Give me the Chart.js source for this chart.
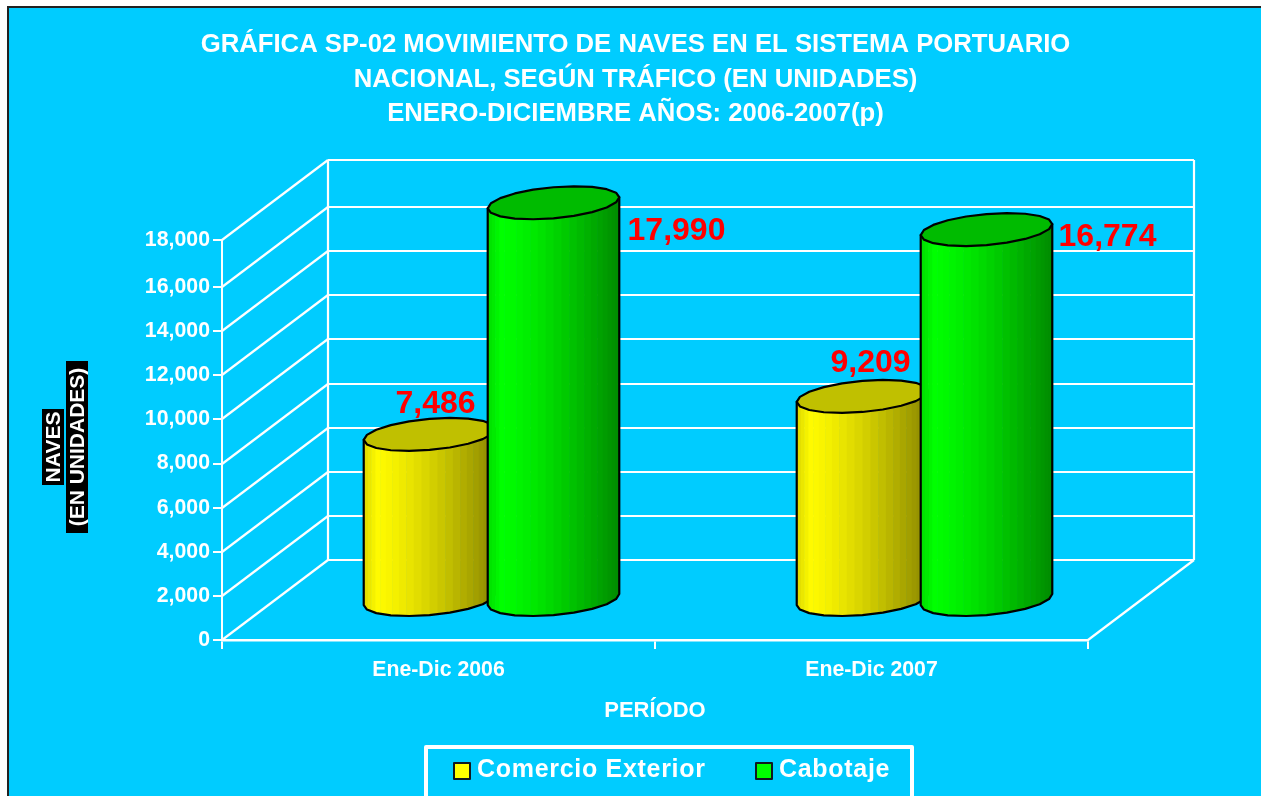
<!DOCTYPE html>
<html>
<head>
<meta charset="utf-8">
<style>html,body{margin:0;padding:0;background:#fff;overflow:hidden}canvas{display:block}</style>
<script src="https://cdn.jsdelivr.net/npm/chart.js@4"></script>
</head>
<body>
<div style="width:1261px;height:796px"><canvas id="c" width="1261" height="796"></canvas></div>
<script>
const categories = ['Ene-Dic 2006', 'Ene-Dic 2007'];
const comercioExterior = [7486, 9209];
const cabotaje = [17990, 16774];
const yTickValues = [0, 2000, 4000, 6000, 8000, 10000, 12000, 14000, 16000, 18000];
const yTickLabels = ['0', '2,000', '4,000', '6,000', '8,000', '10,000', '12,000', '14,000', '16,000', '18,000'];
const titleLines = [
  'GRÁFICA SP-02 MOVIMIENTO DE NAVES EN EL SISTEMA PORTUARIO',
  'NACIONAL, SEGÚN TRÁFICO (EN UNIDADES)',
  'ENERO-DICIEMBRE AÑOS: 2006-2007(p)'
];
const yTitleLines = ['NAVES', '(EN UNIDADES)'];
const xTitle = 'PERÍODO';

// Reference quirk: the top of the value axis sits a little above a true 18,000.
const axisTop = 18140;
const FONT = '"Liberation Sans", Arial, sans-serif';
const depth = { dx: 106, dy: 80 };
// value-label placement relative to each cylinder's top centre [dataset][category]
const labelOffsets = [[[6, -31], [8, -34]], [[123, 28], [121, 7]]];

function bandLevel(u) {
  return u < 0.1 ? 0.86 + 0.14 * u / 0.1 : 1 - 0.46 * Math.pow((u - 0.1) / 0.9, 1.3);
}

function drawCylinder(ctx, cx, topY, baseY, a, rgbFn, topColor) {
  const s = 22, h = 16.5, segs = 20;
  const pt = (t, cy) => [cx + a * Math.cos(t) + s * Math.sin(t), cy - h * Math.sin(t)];
  const t0 = Math.atan2(s, a);
  const R = Math.hypot(a, s);

  const sidePath = () => {
    ctx.beginPath();
    const lt = pt(t0 + Math.PI, topY);
    ctx.moveTo(lt[0], lt[1]);
    for (let i = 0; i <= segs / 2; i++) {
      const p = pt(t0 + Math.PI + i * 2 * Math.PI / segs, baseY);
      ctx.lineTo(p[0], p[1]);
    }
    const rt = pt(t0, topY);
    ctx.lineTo(rt[0], rt[1]);
    ctx.closePath();
  };

  ctx.save();
  sidePath();
  ctx.clip();
  const bands = 26;
  for (let i = 0; i < bands; i++) {
    const u0 = (1 - Math.cos(Math.PI * i / bands)) / 2;
    const u1 = (1 - Math.cos(Math.PI * (i + 1) / bands)) / 2;
    ctx.fillStyle = rgbFn(bandLevel((u0 + u1) / 2));
    ctx.fillRect(cx - R + u0 * 2 * R, topY - 30, (u1 - u0) * 2 * R + 0.6, baseY - topY + 70);
  }
  ctx.restore();

  ctx.strokeStyle = '#000';
  ctx.lineWidth = 2.2;
  ctx.lineJoin = 'round';
  sidePath();
  ctx.stroke();

  ctx.beginPath();
  for (let i = 0; i < segs; i++) {
    const p = pt(t0 + i * 2 * Math.PI / segs, topY);
    i ? ctx.lineTo(p[0], p[1]) : ctx.moveTo(p[0], p[1]);
  }
  ctx.closePath();
  ctx.fillStyle = topColor;
  ctx.fill();
  ctx.stroke();
}

const styles = [
  { rgb: l => `rgb(${Math.round(255 * l)},${Math.round(250 * l)},0)`, top: '#C0C000' },
  { rgb: l => `rgb(0,${Math.round(255 * l)},0)`, top: '#00BB00' }
];

const scene = {
  id: 'scene',
  beforeDraw(chart) {
    const { ctx, width, height } = chart;
    ctx.save();
    ctx.fillStyle = '#fff';
    ctx.fillRect(0, 0, width, height);
    ctx.fillStyle = '#222';
    ctx.fillRect(7, 6, width, height);
    ctx.fillStyle = '#00CCFF';
    ctx.fillRect(9, 8, width, height);
    ctx.restore();
  },
  afterLayout(chart) {
    // the title centres on the full plot block, not on the reserved width
    chart.titleBlock.left = 0;
    chart.titleBlock.right = 1271;
  },
  beforeDatasetsDraw(chart) {
    const { ctx, chartArea: ca, scales: { y } } = chart;
    const { dx, dy } = depth;
    ctx.save();
    ctx.strokeStyle = '#fff';
    ctx.lineWidth = 2.2;
    const line = (x1, y1, x2, y2) => { ctx.beginPath(); ctx.moveTo(x1, y1); ctx.lineTo(x2, y2); ctx.stroke(); };
    y.ticks.forEach(t => {
      const py = Math.round(y.getPixelForValue(t.value));
      line(ca.left, py, ca.left + dx, py - dy);
      line(ca.left + dx, py - dy, ca.right + dx, py - dy);
    });
    line(ca.left + dx, ca.top - dy, ca.left + dx, ca.bottom - dy);
    line(ca.right + dx, ca.top - dy, ca.right + dx, ca.bottom - dy);
    line(ca.right, ca.bottom, ca.right + dx, ca.bottom - dy);
    ctx.restore();

    chart.data.datasets.forEach((ds, di) => {
      chart.getDatasetMeta(di).data.forEach(bar => {
        const baseY = bar.base - dy / 2 + 0.5, topY = bar.y - dy / 2 - 0.5;
        drawCylinder(ctx, bar.x + dx / 2, topY, baseY, bar.width / 2, styles[di].rgb, styles[di].top);
      });
    });
  },
  beforeDatasetDraw() { return false; },
  afterDatasetsDraw(chart) {
    const { ctx } = chart;
    ctx.save();
    ctx.fillStyle = '#FF0000';
    ctx.font = 'bold 32px ' + FONT;
    ctx.textAlign = 'center';
    ctx.textBaseline = 'middle';
    chart.data.datasets.forEach((ds, di) => {
      chart.getDatasetMeta(di).data.forEach((bar, i) => {
        const [ox, oy] = labelOffsets[di][i];
        ctx.fillText(ds.data[i].toLocaleString('en-US'), bar.x + depth.dx / 2 + ox, bar.y - depth.dy / 2 + oy);
      });
    });
    ctx.restore();
  },
  afterDraw(chart) {
    const { ctx } = chart;
    ctx.save();
    // value-axis title: white on black, rotated
    ctx.font = 'bold 21px ' + FONT;
    ctx.textAlign = 'center';
    ctx.textBaseline = 'middle';
    [[53, 447, 76], [77, 447, 172]].forEach(([x, yy, len], i) => {
      ctx.save();
      ctx.translate(x, yy);
      ctx.rotate(-Math.PI / 2);
      ctx.fillStyle = '#000';
      ctx.fillRect(-len / 2, -11, len, 22);
      ctx.fillStyle = '#fff';
      ctx.fillText(yTitleLines[i], 0, 1, len - 2);
      ctx.restore();
    });
    // legend
    ctx.strokeStyle = '#fff';
    ctx.lineWidth = 4;
    ctx.strokeRect(426, 747, 486, 80);
    ctx.textAlign = 'left';
    ctx.textBaseline = 'alphabetic';
    ctx.font = 'bold 25px ' + FONT;
    ctx.letterSpacing = '0.7px';
    [[454, 477], [756, 779]].forEach(([bx, tx], i) => {
      const ds = chart.data.datasets[i];
      ctx.fillStyle = ds.backgroundColor;
      ctx.fillRect(bx, 763, 16, 16);
      ctx.strokeStyle = '#101820';
      ctx.lineWidth = 2;
      ctx.strokeRect(bx, 763, 16, 16);
      ctx.fillStyle = '#fff';
      ctx.fillText(ds.label, tx, 777);
    });
    ctx.restore();
  }
};

new Chart(document.getElementById('c'), {
  type: 'bar',
  data: {
    labels: categories,
    datasets: [
      { label: 'Comercio Exterior', data: comercioExterior, backgroundColor: '#FFFF00', borderColor: '#000', categoryPercentage: 0.5727, barPercentage: 1 },
      { label: 'Cabotaje', data: cabotaje, backgroundColor: '#00FF00', borderColor: '#000', categoryPercentage: 0.5727, barPercentage: 1 }
    ]
  },
  plugins: [scene],
  options: {
    responsive: false,
    animation: false,
    layout: { padding: { left: 0, right: 173, top: 0, bottom: 0 }, autoPadding: false },
    plugins: {
      legend: { display: false },
      tooltip: { enabled: false },
      title: {
        display: true,
        text: titleLines,
        color: '#fff',
        font: { family: FONT, size: 25.7, weight: 'bold', lineHeight: 1.342 },
        padding: { top: 28, bottom: 108.5 }
      }
    },
    scales: {
      x: {
        afterFit(s) { s.height = 156; },
        grid: { color: '#fff', lineWidth: 2, drawOnChartArea: false, offset: true, tickLength: 9 },
        border: { color: '#fff', width: 2.5 },
        ticks: { color: '#fff', padding: 8, maxRotation: 0, font: { family: FONT, size: 21.3, weight: 'bold' } },
        title: {
          display: true, text: xTitle, color: '#fff',
          font: { family: FONT, size: 22, weight: 'bold' },
          padding: { top: 0, bottom: 72 }
        }
      },
      y: {
        min: 0,
        max: axisTop,
        afterFit(s) { s.width = 222; },
        afterBuildTicks(s) {
          s.ticks = yTickValues.map(v => ({ value: v === 18000 ? axisTop : v }));
        },
        grid: { color: '#fff', lineWidth: 2, drawOnChartArea: false, tickLength: 9 },
        border: { color: '#fff', width: 2 },
        ticks: {
          color: '#fff', padding: 3, autoSkip: false,
          font: { family: FONT, size: 21.3, weight: 'bold' },
          callback: (v, i) => yTickLabels[i]
        }
      }
    }
  }
});
</script>
</body>
</html>
